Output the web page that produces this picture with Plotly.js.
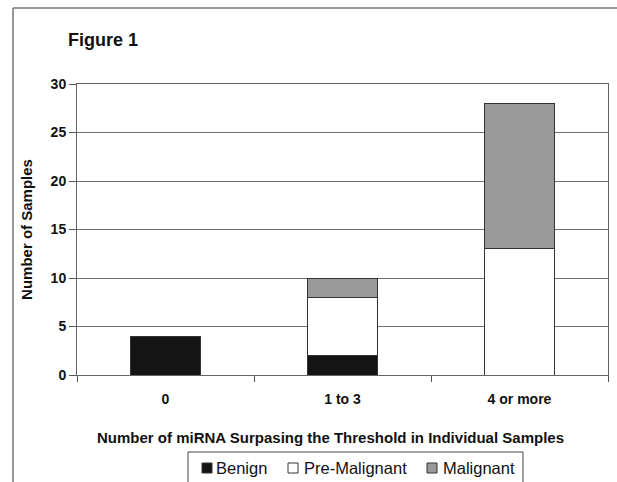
<!DOCTYPE html>
<html>
<head>
<meta charset="utf-8">
<script src="https://cdn.plot.ly/plotly-3.0.1.min.js"></script>
<style>html,body{margin:0;padding:0;background:#fff;}#chart{width:617px;height:482px;}</style>
</head>
<body>
<div id="chart"></div>
<script>
var categories = ["0", "1 to 3", "4 or more"];
var benign = [4, 2, 0];
var preMalignant = [0, 6, 13];
var malignant = [0, 2, 15];
var seriesNames = ["Benign", "Pre-Malignant", "Malignant"];
var yTicks = [0, 5, 10, 15, 20, 25, 30];

var font = "Arial, 'Liberation Sans', sans-serif";
var outline = {color: "#333333", width: 1};
var seriesColors = ["#141414", "#ffffff", "#9a9a9a"];
var seriesValues = [benign, preMalignant, malignant];

var traces = seriesNames.map(function (n, i) {
  return {type: "bar", name: n, x: categories, y: seriesValues[i], marker: {color: seriesColors[i], line: outline}};
});

// plot-area geometry in pixels (for converting page positions to paper coords)
var L = 77, T = 84, W = 531, H = 291;
function px(x) { return (x - L) / W; }
function py(y) { return (T + H - y) / H; }

var shapes = [
  {type: "line", xref: "paper", yref: "paper", x0: px(13), x1: px(13), y0: py(8), y1: py(500), line: {color: "#777", width: 1.5}},
  {type: "line", xref: "paper", yref: "paper", x0: px(13), x1: px(640), y0: py(8), y1: py(8), line: {color: "#777", width: 1.5}},
  {type: "rect", xref: "paper", yref: "paper", x0: px(188), x1: px(523), y0: py(452), y1: py(495), line: {color: "#444", width: 1}, fillcolor: "rgba(0,0,0,0)"}
];
var annotations = [
  {text: "<b>Number of miRNA Surpasing the Threshold in Individual Samples</b>", xref: "paper", yref: "paper",
   x: px(330), y: py(437), xanchor: "center", yanchor: "middle", showarrow: false,
   font: {family: font, size: 15, color: "#111"}}
];
var legSym = [202, 288, 427];
var legText = [214, 302, 441];
seriesNames.forEach(function (n, i) {
  shapes.push({type: "rect", xref: "paper", yref: "paper", x0: px(legSym[i]), x1: px(legSym[i] + 10), y0: py(463), y1: py(473),
    line: {color: "#333", width: 1}, fillcolor: seriesColors[i]});
  annotations.push({text: n, xref: "paper", yref: "paper", x: px(legText[i]), y: py(468), xanchor: "left", yanchor: "middle",
    showarrow: false, font: {family: font, size: 16.5, color: "#111"}});
});

var layout = {
  width: 617, height: 482,
  margin: {l: L, r: 617 - L - W, t: T, b: 482 - T - H},
  paper_bgcolor: "#ffffff", plot_bgcolor: "#ffffff",
  barmode: "stack", bargap: 0.6,
  font: {family: font, color: "#111111"},
  title: {text: "<b>Figure 1</b>", font: {family: font, size: 18, color: "#111"}, x: 68/617, xanchor: "left", y: 1 - 40/482, yanchor: "middle"},
  xaxis: {
    type: "category", tickson: "boundaries", ticks: "outside", ticklen: 6, tickcolor: "#555",
    showline: true, linecolor: "#666", linewidth: 1, mirror: true, automargin: false,
    showgrid: false, ticklabelstandoff: 11,
    tickfont: {family: font, size: 14, color: "#111", weight: "bold"}
  },
  yaxis: {
    range: [0, 30], tickvals: yTicks, ticks: "outside", ticklen: 7, tickcolor: "#555",
    showline: true, linecolor: "#666", linewidth: 1, mirror: true, automargin: false,
    showgrid: true, gridcolor: "#707070", gridwidth: 1, zeroline: false,
    tickfont: {family: font, size: 14, color: "#111", weight: "bold"},
    title: {text: "<b>Number of Samples</b>", font: {family: font, size: 15, color: "#111"}, standoff: 14}
  },
  showlegend: false,
  annotations: annotations,
  shapes: shapes
};

Plotly.newPlot("chart", traces, layout, {displayModeBar: false, staticPlot: true});
</script>
</body>
</html>
